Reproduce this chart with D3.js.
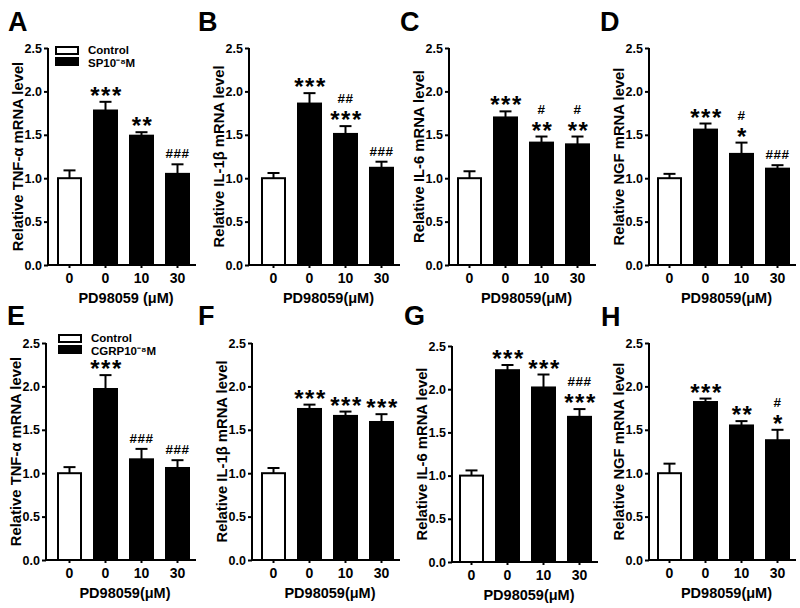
<!DOCTYPE html>
<html>
<head>
<meta charset="utf-8">
<script src="https://cdn.jsdelivr.net/npm/d3@7"></script>
<style>
  body { margin: 0; background: #fff; }
  svg { display: block; }
  text { font-family: "Liberation Sans", Arial, sans-serif; font-weight: bold; fill: #000; }
</style>
</head>
<body>
<svg id="chart" width="800" height="608"></svg>
<script>
// ---------- data ----------
const panels = ['A','B','C','D','E','F','G','H'];
const categories = ['0','0','10','30'];
const yTicks = [0, 0.5, 1.0, 1.5, 2.0, 2.5];
const yTitles = ['Relative TNF-\u03b1 mRNA level','Relative IL-1\u03b2 mRNA level','Relative IL-6 mRNA level','Relative NGF mRNA level',
                 'Relative TNF-\u03b1 mRNA level','Relative IL-1\u03b2 mRNA level','Relative IL-6 mRNA level','Relative NGF mRNA level'];
const xTitles = ['PD98059 (\u03bcM)','PD98059(\u03bcM)','PD98059(\u03bcM)','PD98059(\u03bcM)',
                 'PD98059(\u03bcM)','PD98059(\u03bcM)','PD98059(\u03bcM)','PD98059(\u03bcM)'];

const meanA = [1.00, 1.78, 1.49, 1.05];
const meanB = [1.00, 1.86, 1.51, 1.12];
const meanC = [1.00, 1.70, 1.41, 1.39];
const meanD = [1.00, 1.56, 1.28, 1.11];
const meanE = [1.00, 1.97, 1.16, 1.06];
const meanF = [1.00, 1.74, 1.66, 1.59];
const meanG = [1.00, 2.22, 2.02, 1.68];
const meanH = [1.00, 1.82, 1.55, 1.38];

const semA = [0.09, 0.10, 0.04, 0.11];
const semB = [0.06, 0.12, 0.09, 0.07];
const semC = [0.08, 0.07, 0.07, 0.09];
const semD = [0.05, 0.07, 0.13, 0.04];
const semE = [0.07, 0.16, 0.12, 0.09];
const semF = [0.06, 0.05, 0.05, 0.09];
const semG = [0.06, 0.06, 0.15, 0.09];
const semH = [0.11, 0.04, 0.05, 0.12];

const starsA = ['', '***', '**', ''];   const hashA = ['', '', '', '###'];
const starsB = ['', '***', '***', ''];  const hashB = ['', '', '##', '###'];
const starsC = ['', '***', '**', '**']; const hashC = ['', '', '#', '#'];
const starsD = ['', '***', '*', ''];    const hashD = ['', '', '#', '###'];
const starsE = ['', '***', '', ''];     const hashE = ['', '', '###', '###'];
const starsF = ['', '***', '***', '***']; const hashF = ['', '', '', ''];
const starsG = ['', '***', '***', '***']; const hashG = ['', '', '', '###'];
const starsH = ['', '***', '**', '*'];  const hashH = ['', '', '', '#'];

const legendTop = ['Control', 'SP10\u207b\u2078M'];
const legendBottom = ['Control', 'CGRP10\u207b\u2078M'];

const means = [meanA, meanB, meanC, meanD, meanE, meanF, meanG, meanH];
const sems = [semA, semB, semC, semD, semE, semF, semG, semH];
const stars = [starsA, starsB, starsC, starsD, starsE, starsF, starsG, starsH];
const hashes = [hashA, hashB, hashC, hashD, hashE, hashF, hashG, hashH];

// ---------- layout ----------
const axisX   = [48, 249, 449, 649, 46, 252, 452, 649];
const barLeft = [57, 261, 457, 657, 57, 261, 459, 657];
const yBot    = [265, 265, 265, 265, 560, 560, 562, 560];
const yTopPx  = [48, 48, 48, 48, 343, 343, 346, 343];
const letterX = [8, 198, 400, 600, 7, 198, 404, 601];
const letterY = [31, 31, 31, 31, 325, 325, 325, 326];
const FONT = '"Liberation Sans", Arial, sans-serif';

const svg = d3.select('#chart');

panels.forEach((p, i) => {
  const g = svg.append('g');
  const y = d3.scaleLinear().domain([0, 2.5]).range([yBot[i], yTopPx[i]]);
  const x = d3.scaleBand().domain(d3.range(categories.length))
    .range([barLeft[i], barLeft[i] + 133]).paddingInner(11 / 36).paddingOuter(0);
  const xEnd = barLeft[i] + 133 + 6;

  // panel letter
  g.append('text').attr('x', letterX[i]).attr('y', letterY[i])
    .attr('font-size', 27).text(p);

  // y axis
  const ya = g.append('g').attr('transform', `translate(${axisX[i]},0)`)
    .call(d3.axisLeft(y).tickValues(yTicks).tickFormat(d3.format('.1f')).tickSize(4).tickPadding(2));
  ya.select('.domain').attr('stroke', '#000').attr('stroke-width', 2).attr('d', `M0,${yBot[i]}V${yTopPx[i]}`);
  ya.selectAll('.tick line').attr('stroke', '#000').attr('stroke-width', 2);
  ya.selectAll('.tick text').attr('font-size', 12.5).attr('font-family', FONT).attr('font-weight', 'bold');

  // x axis
  const xa = g.append('g').attr('transform', `translate(0,${yBot[i]})`)
    .call(d3.axisBottom(x).tickFormat(d => categories[d]).tickSize(3).tickPadding(5));
  xa.select('.domain').attr('stroke', '#000').attr('stroke-width', 2).attr('d', `M${axisX[i]},0H${xEnd}`);
  xa.selectAll('.tick line').attr('stroke', '#000').attr('stroke-width', 2);
  xa.selectAll('.tick text').attr('font-size', 14).attr('font-family', FONT).attr('font-weight', 'bold');

  // titles
  g.append('text')
    .attr('transform', `translate(${axisX[i] - 30},${(yBot[i] + yTopPx[i]) / 2}) rotate(-90)`)
    .attr('text-anchor', 'middle').attr('dominant-baseline', 'central')
    .attr('font-size', 14.8).text(yTitles[i]);
  g.append('text')
    .attr('x', (axisX[i] + xEnd) / 2 + 4).attr('y', yBot[i] + 38)
    .attr('text-anchor', 'middle').attr('font-size', 14.5).text(xTitles[i]);

  const data = means[i].map((m, j) => ({ j, m, e: m + sems[i][j] }));

  // error bars (upward only)
  const eb = g.selectAll('.eb').data(data).enter().append('g');
  eb.append('line')
    .attr('x1', d => x(d.j) + x.bandwidth() / 2).attr('x2', d => x(d.j) + x.bandwidth() / 2)
    .attr('y1', d => y(d.m)).attr('y2', d => y(d.e))
    .attr('stroke', '#000').attr('stroke-width', 2);
  eb.append('line')
    .attr('x1', d => x(d.j) + x.bandwidth() / 2 - 6).attr('x2', d => x(d.j) + x.bandwidth() / 2 + 6)
    .attr('y1', d => y(d.e)).attr('y2', d => y(d.e))
    .attr('stroke', '#000').attr('stroke-width', 2);

  // bars
  g.selectAll('.bar').data(data).enter().append('rect')
    .attr('x', d => x(d.j) + 1).attr('width', x.bandwidth() - 2)
    .attr('y', d => y(d.m)).attr('height', d => y(0) - y(d.m))
    .attr('fill', d => d.j === 0 ? '#fff' : '#000')
    .attr('stroke', '#000').attr('stroke-width', 2);

  // significance marks
  data.forEach(d => {
    const cx = x(d.j) + x.bandwidth() / 2;
    const s = stars[i][d.j], h = hashes[i][d.j];
    if (s) {
      g.append('text').attr('x', cx + 1).attr('y', y(d.e) + 2)
        .attr('text-anchor', 'middle').attr('font-size', 24).attr('letter-spacing', 1.5).text(s);
      if (h) {
        g.append('text').attr('x', cx).attr('y', y(d.e) - 23)
          .attr('text-anchor', 'middle').attr('font-size', 13.5).attr('letter-spacing', 0.5).text(h);
      }
    } else if (h) {
      g.append('text').attr('x', cx).attr('y', y(d.e) - 6)
        .attr('text-anchor', 'middle').attr('font-size', 13.5).attr('letter-spacing', 0.5).text(h);
    }
  });
});

// legends
function legend(lx, ly, labels) {
  const g = svg.append('g');
  g.append('rect').attr('x', lx).attr('y', ly).attr('width', 22).attr('height', 7)
    .attr('fill', '#fff').attr('stroke', '#000').attr('stroke-width', 2);
  g.append('rect').attr('x', lx).attr('y', ly + 11).attr('width', 22).attr('height', 7)
    .attr('fill', '#000').attr('stroke', '#000').attr('stroke-width', 2);
  g.append('text').attr('x', lx + 32).attr('y', ly + 7).attr('font-size', 11.5).text(labels[0]);
  g.append('text').attr('x', lx + 32).attr('y', ly + 20).attr('font-size', 11.5).text(labels[1]);
}
legend(56, 47, legendTop);
legend(59, 335, legendBottom);
</script>
</body>
</html>
